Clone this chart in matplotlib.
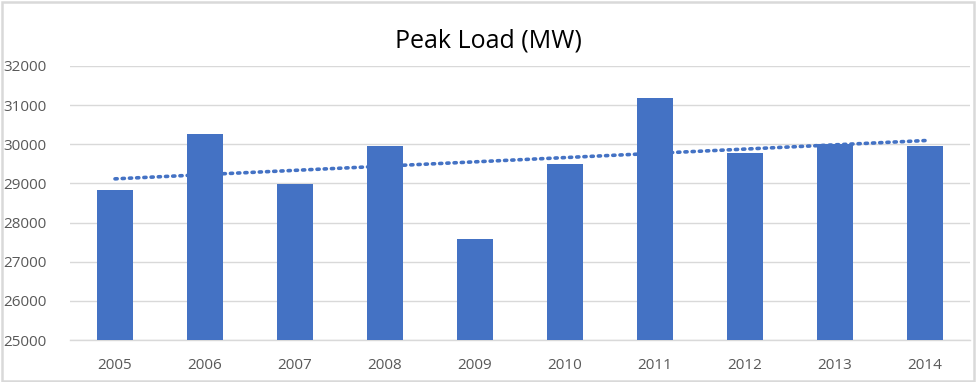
import matplotlib
matplotlib.use("Agg")
import matplotlib.pyplot as plt
import numpy as np
from matplotlib.patches import Rectangle

years = ["2005", "2006", "2007", "2008", "2009", "2010", "2011", "2012", "2013", "2014"]
peak_load = [28830, 30265, 28990, 29960, 27580, 29500, 31185, 29780, 30010, 29960]
y_ticks = [25000, 26000, 27000, 28000, 29000, 30000, 31000, 32000]

plt.rcParams['font.family'] = ['Open Sans', 'DejaVu Sans']

fig = plt.figure(figsize=(9.77, 3.82), dpi=100)
ax = fig.add_axes([70/977, 42/382, 900/977, 274/382])

x = np.arange(len(years))
ax.bar(x, peak_load, width=0.4, color="#4472C4", zorder=3)

coef = np.polyfit(x, peak_load, 1)
trend = np.polyval(coef, x)
ax.plot(x, trend, color="#4472C4", linestyle=(0, (0.6, 1.4)), linewidth=2.6,
        dash_capstyle="round", zorder=2)

ax.set_xlim(-0.5, len(years) - 0.5)
ax.set_ylim(25000, 32000)
ax.set_yticks(y_ticks)
ax.set_yticklabels([str(t) for t in y_ticks])
ax.set_xticks(x)
ax.set_xticklabels(years)
ax.tick_params(axis="both", length=0, labelsize=11, labelcolor="#595959")
ax.tick_params(axis="y", pad=17)
ax.tick_params(axis="x", pad=13)
ax.yaxis.grid(True, color="#d9d9d9", linewidth=1, zorder=0)
ax.set_axisbelow(True)
for s in ["top", "right", "left"]:
    ax.spines[s].set_visible(False)
ax.spines["bottom"].set_color("#d9d9d9")
ax.spines["bottom"].set_linewidth(1)

fig.text(0.5, 1 - 41/382, "Peak Load (MW)", ha="center", va="center",
         fontsize=18, color="#000000")

fig.patches.append(Rectangle((1.5/977, 1.5/382), 972/977, 379/382, transform=fig.transFigure,
                             fill=False, edgecolor="#d9d9d9", linewidth=1.8))

fig.savefig("out.png", dpi=100)
